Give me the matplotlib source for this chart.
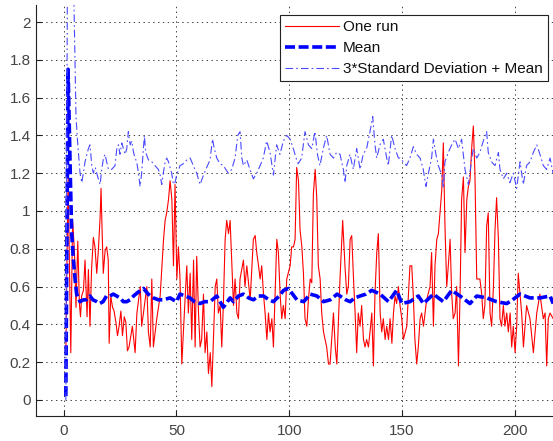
import matplotlib
matplotlib.use("Agg")
import matplotlib.pyplot as plt

plt.rcParams['font.family'] = ['Liberation Sans', 'DejaVu Sans']
plt.rcParams['lines.scale_dashes'] = False

# ---- data ----
run_x = [1, 2, 3.2, 4.0, 4.8, 5.5, 6.3, 7.0, 7.5, 8.0, 8.8, 9.5, 10.4, 11.0, 11.7, 12.4, 13.2, 13.9,
         14.7, 15.4, 16.2, 16.6, 17.0, 17.6, 18.4, 19.1, 19.8, 20.2, 20.9, 21.7, 22.4, 23.2, 23.9,
         24.6, 25.4, 26.1, 26.9, 27.6, 28.3, 29.0, 29.8, 30.5,
         31.7, 32.5, 34.0, 34.6, 35.4, 36.9, 37.6, 38.4, 39.1, 39.8, 41.3, 42.8, 44.3, 45.0, 45.7,
         46.5, 47.2, 48.0, 48.7, 49.4, 50.2, 50.9, 51.6, 52.4, 53.1, 54.6, 55.3, 56.1, 56.8, 57.6,
         58.3, 59.0, 59.8, 60.5, 61.2, 62.0, 62.7, 63.5, 64.2, 65.0, 65.7, 66.4, 67.2, 67.9, 68.6,
         69.4, 70.1, 70.8, 71.6, 72.3, 73.1, 73.8, 74.5, 75.3, 76.0, 76.8, 77.5, 78.2, 79.7, 80.4,
         81.2, 82.7, 84.1, 84.9, 85.6, 86.4, 87.1, 87.8, 88.6, 89.3, 90.1, 90.8, 91.5, 92.3, 93.0,
         93.7, 94.5, 95.2, 96.0, 96.7, 97.4, 98.2, 98.9, 100.4, 101.1, 101.9, 102.6, 103.3, 104.1,
         104.8, 105.6, 106.3, 107.0, 107.8, 108.5, 109.3, 110.0, 110.7, 111.5, 112.2, 112.9, 113.7,
         114.4, 115.2, 116.6, 117.4,
         118.1, 119.6, 120.4, 121.1, 122.5, 123.7, 124.7, 125.5, 126.2, 127.0, 127.7, 128.5, 129.2,
         129.9, 130.6, 131.4, 132.1, 132.9, 133.6, 134.3, 135.1, 135.8, 136.6, 137.3, 138.0, 138.8,
         139.5, 140.3, 141.0, 141.7, 142.5, 143.2, 144.0, 144.7, 145.5, 146.2, 146.9, 147.6, 148.4,
         149.1, 149.9, 150.6, 152.1, 153.5, 154.3, 155.0, 155.7, 156.5, 157.2, 158.0, 158.7, 159.5,
         160.9, 162.4, 163.1, 163.9, 164.6, 165.4, 166.1, 166.8, 167.6, 168.3, 169.0, 169.8, 170.5,
         171.3, 172.0, 172.7, 173.5, 174.2, 175.0, 175.7, 176.4, 177.2, 177.9, 178.7, 179.4, 180.1,
         180.9, 181.6, 182.3, 183.1, 184.5, 185.3, 186.0, 186.7, 187.5, 188.2, 189.0, 189.7, 190.5,
         191.2, 191.9, 192.7, 193.4, 194.1, 194.9, 195.6, 196.4, 197.1, 197.9, 198.6, 199.3, 200.1,
         200.8, 201.5, 202.3, 203.0, 203.8, 205.2, 206.7, 208.2, 209.7, 211.1, 212.6, 213.4, 214.1,
         214.8, 215.6, 217.0]
run_y = [0.25, 1.18, 0.25, 0.95, 0.79, 0.49, 0.84, 0.51, 0.44, 0.55, 0.58, 0.74, 0.44, 0.69, 0.39, 0.69, 0.86, 0.81,
         0.67, 0.79, 0.97, 1.12, 0.93, 0.67, 0.79, 0.81, 0.74, 0.30, 0.55, 0.49, 0.47, 0.41, 0.34,
         0.39, 0.47, 0.34, 0.44, 0.41, 0.26, 0.28, 0.34, 0.39,
         0.25, 0.46, 0.60, 0.39, 0.46, 0.60, 0.36, 0.28, 0.64, 0.28, 0.43, 0.55, 0.85, 0.95, 0.99,
         1.06, 1.16, 1.06, 0.71, 1.14, 0.64, 0.81, 0.64, 0.19, 0.36, 0.71, 0.46, 0.67, 0.32, 0.74,
         0.28, 0.76, 0.46, 0.28, 0.32, 0.56, 0.25, 0.36, 0.14, 0.25, 0.07, 0.32, 0.60, 0.64, 0.46,
         0.50, 0.28, 0.50, 0.85, 0.95, 0.88, 0.95, 0.74, 0.50, 0.64, 0.46, 0.43, 0.64, 0.74, 0.60,
         0.71, 0.53, 0.85, 0.87, 0.78, 0.71, 0.64, 0.71, 0.56, 0.46, 0.32, 0.46, 0.36, 0.43, 0.28,
         0.55, 0.85, 0.78, 0.55, 0.43, 0.50, 0.43, 0.64, 0.71, 0.81, 0.81, 0.85, 1.23, 1.16,
         0.90, 0.81, 0.67, 0.43, 0.39, 0.53, 0.64, 0.62, 1.09, 1.22, 1.07, 0.71, 0.64,
         0.46, 0.36, 0.28, 0.19,
         0.19, 0.46, 0.28, 0.19, 0.64, 0.95, 0.71, 0.56, 0.60, 0.85, 0.87, 0.64, 0.46,
         0.25, 0.46, 0.39, 0.50, 0.32, 0.28, 0.32, 0.28, 0.36, 0.46, 0.18, 0.56, 0.78,
         0.88, 0.46, 0.36, 0.43, 0.32, 0.39, 0.32, 0.43, 0.30, 0.46, 0.55, 0.51, 0.60,
         0.50, 0.43, 0.32, 0.39, 0.71, 0.71, 0.55, 0.32, 0.19, 0.28, 0.43, 0.46, 0.39,
         0.53, 0.60, 0.78, 0.39, 0.71, 0.85, 0.88, 0.99, 1.11, 1.36, 0.93, 0.60, 0.71,
         0.85, 0.56, 0.43, 0.46, 0.60, 0.18, 0.55, 1.06, 1.18, 0.78, 1.06, 1.13, 1.16,
         1.34, 1.45, 1.20, 0.64, 0.64, 0.56, 0.43, 0.50, 0.92, 0.99, 0.46, 0.39, 0.60,
         0.90, 1.07, 0.85, 0.43, 0.39, 0.50, 0.39, 0.46, 0.36, 0.46, 0.28, 0.39, 0.25,
         0.39, 0.67, 0.56, 0.46, 0.28, 0.50, 0.43, 0.25, 0.46, 0.56, 0.43, 0.46, 0.18,
         0.43, 0.46, 0.43]

mean_x = [1, 2, 3, 3.6, 4.3, 5, 5.8, 7.3, 8.8, 10, 11.7, 13, 14.7, 16, 17.5, 19, 20.5, 22, 23.5, 25,
          26.5, 28, 29.5, 31, 33, 35.4, 37.5, 39.8, 42, 44.2, 47.2, 50, 51.6, 54, 56, 58, 60.5, 62.5,
          64.9, 67.9, 70.8, 73.8, 75.3, 77.5, 79.7, 82, 84.1, 86.5, 88.6, 91, 93, 95.5, 97.5, 99.7,
          101.5, 103.4, 106.4, 109.3, 112.3, 115.2, 118.2, 121.2, 122.5, 125, 127, 129, 131.4, 134,
          136.6, 140.3, 144, 147.6, 149.9, 153.5, 157.2, 159.5, 163.9, 168.3, 172, 175.7, 180.1,
          183.1, 187.5, 191.9, 196.4, 199, 202.3, 206.7, 211.1, 215.6, 217]
mean_y = [0.02, 1.75, 1.18, 0.88, 0.75, 0.65, 0.56, 0.52, 0.53, 0.53, 0.55, 0.53, 0.52, 0.51, 0.52, 0.55, 0.55, 0.56, 0.55, 0.54,
          0.52, 0.52, 0.53, 0.55, 0.57, 0.59, 0.56, 0.54, 0.53, 0.53, 0.54, 0.52, 0.56, 0.55, 0.54, 0.52, 0.51, 0.52,
          0.52, 0.55, 0.49, 0.54, 0.52, 0.55, 0.56, 0.54, 0.53, 0.55, 0.55, 0.53, 0.52, 0.55, 0.58, 0.59,
          0.56, 0.53, 0.52, 0.56, 0.55, 0.52, 0.53, 0.56, 0.55, 0.53, 0.52, 0.54, 0.55, 0.56,
          0.58, 0.56, 0.52, 0.58, 0.51, 0.52, 0.55, 0.51, 0.56, 0.52, 0.58, 0.55, 0.51,
          0.55, 0.54, 0.52, 0.51, 0.53, 0.56, 0.54, 0.54, 0.55, 0.51]

std_x = [1, 2, 3, 4, 4.6, 5.5, 6.3, 7.3, 8.1, 9.5, 11.0, 11.7, 12.5, 13.2, 14.0, 14.7, 15.4, 16.2,
         16.9, 17.7, 18.4, 19.1, 19.9, 21.3, 22.8, 23.6, 24.3, 25.0, 25.8, 26.5, 27.3, 28.0, 28.7,
         29.5, 30.2, 31.0, 31.7, 32.4, 33.2, 33.9, 34.6, 35.4, 35.8, 36.4, 37.6, 39.1, 40.5, 42.0,
         42.8, 43.5, 44.2, 45.0, 45.7, 46.5, 47.2, 47.9, 48.7, 49.4, 50.1, 51.6, 53.1, 54.6, 56.1,
         57.5, 59.0, 60.5, 62.0, 63.4, 64.9, 66.0, 66.8, 67.9, 69.3, 70.8, 73.0, 74.5, 76.0, 77.2,
         78.2, 79.0, 79.7, 81.2, 82.6, 84.1, 85.6, 87.1, 88.5, 90.0, 91.5, 93.0, 94.4, 95.9, 97.4,
         98.9, 100.4, 101.8, 103.3, 104.0, 105.5, 107.0, 108.5, 110.0, 111.4, 112.5, 113.6, 115.1,
         116.6, 118.1, 119.6, 121.0, 122.5, 124.0, 124.7, 125.5, 126.9, 128.4, 129.9, 131.4, 132.8,
         134.3, 135.8, 137.0, 138.0, 138.8, 140.2, 141.7, 143.2, 143.9, 145.4, 146.9, 148.4,
         149.1, 150.6, 152.0, 153.5, 155.0, 156.5, 158.0, 159.4, 160.6, 161.7, 163.1, 163.9,
         165.0, 166.1, 167.6, 168.3, 169.0, 170.5, 172.0, 173.5, 175.0, 176.4, 177.9, 179.4,
         180.9, 181.6, 183.1, 184.5, 186.0, 187.5, 188.2, 189.7, 191.2, 192.7, 193.4, 194.9,
         196.4, 197.8, 199.3, 200.8, 202.3, 203.7, 205.2, 206.7, 208.2, 209.7, 211.1, 212.6,
         214.1, 215.6, 216.9]
std_y = [0.0, 3.2, 2.9, 2.4, 2.1, 1.5, 1.35, 1.2, 1.15, 1.26, 1.33, 1.35, 1.24, 1.2, 1.23, 1.2, 1.17, 1.14,
         1.22, 1.28, 1.30, 1.26, 1.22, 1.22, 1.24, 1.33, 1.35, 1.30, 1.36, 1.33, 1.30, 1.33, 1.42,
         1.35, 1.37, 1.31, 1.28, 1.26, 1.20, 1.13, 1.20, 1.33, 1.40, 1.31, 1.27, 1.26, 1.24, 1.22,
         1.19, 1.14, 1.20, 1.26, 1.28, 1.26, 1.23, 1.20, 1.14, 1.15, 1.19, 1.24, 1.25, 1.27, 1.28,
         1.24, 1.20, 1.14, 1.19, 1.23, 1.27, 1.38, 1.33, 1.28, 1.25, 1.24, 1.20, 1.22, 1.28, 1.40,
         1.42, 1.28, 1.24, 1.27, 1.22, 1.17, 1.20, 1.24, 1.28, 1.37, 1.31, 1.19, 1.35, 1.30, 1.37,
         1.40, 1.38, 1.33, 1.27, 1.25, 1.28, 1.42, 1.35, 1.33, 1.42, 1.30, 1.24, 1.33,
         1.40, 1.30, 1.28, 1.31, 1.30, 1.22, 1.15, 1.24, 1.30, 1.22, 1.33, 1.22, 1.30,
         1.33, 1.42, 1.50, 1.35, 1.28, 1.35, 1.38, 1.28, 1.24, 1.40, 1.33, 1.28,
         1.28, 1.26, 1.24, 1.28, 1.34, 1.30, 1.28, 1.22, 1.13, 1.20, 1.28, 1.38,
         1.30, 1.24, 1.19, 1.12, 1.26, 1.31, 1.35, 1.38, 1.33, 1.38, 1.22, 1.14,
         1.28, 1.33, 1.28, 1.31, 1.37, 1.42, 1.31, 1.26, 1.24, 1.31, 1.22, 1.17,
         1.20, 1.15, 1.20, 1.12, 1.26, 1.14, 1.24, 1.26, 1.31, 1.35, 1.30, 1.24,
         1.22, 1.28, 1.20]

labels = ["One run", "Mean", "3*Standard Deviation + Mean"]
xticks = [0, 50, 100, 150, 200]
yticks = [0, 0.2, 0.4, 0.6, 0.8, 1, 1.2, 1.4, 1.6, 1.8, 2]

# ---- figure ----
W, H = 553, 441
fig = plt.figure(figsize=(W / 100, H / 100), dpi=100)
ax = fig.add_axes([35.6 / W, 25 / H, (W - 35.6) / W, 411 / H])

ax.plot(run_x, run_y, color='#ff0000', lw=0.8, label=labels[0], zorder=3)
ax.plot(mean_x, mean_y, color='#0000ff', lw=2.6, linestyle=(0, (7.2, 2.6)),
        label=labels[1], zorder=4)
ax.plot(std_x, std_y, color='#4a4aff', lw=0.8, linestyle=(0, (5.5, 2.2, 1.2, 2.2)),
        label=labels[2], zorder=5)

ax.set_xlim(-12.4, 216.9)
ax.set_ylim(-0.085, 2.09)
ax.set_xticks(xticks)
ax.set_xticklabels([str(t) for t in xticks])
ax.set_yticks(yticks)
ax.set_yticklabels([("%g" % t) for t in yticks])

ax.grid(True, color='#404040', linestyle=(0, (1, 2.5)), lw=0.7)
ax.tick_params(direction='in', length=4, width=0.8, colors='#222222',
               labelcolor='#444444', labelsize=11)
ax.tick_params(axis='x', pad=6)
for side in ['top', 'right']:
    ax.spines[side].set_visible(False)
for side in ['left', 'bottom']:
    ax.spines[side].set_color('#222222')
    ax.spines[side].set_linewidth(0.8)

leg = ax.legend(loc='upper right', bbox_to_anchor=(0.990, 0.976), borderaxespad=0,
                fancybox=False, framealpha=1, edgecolor='#222222', fontsize=11,
                handlelength=3.5, handletextpad=0.25, borderpad=0.35, labelspacing=0.45)
leg.get_frame().set_linewidth(0.8)
for t in leg.get_texts():
    t.set_color('#111111')

fig.savefig("out.png", dpi=100)
